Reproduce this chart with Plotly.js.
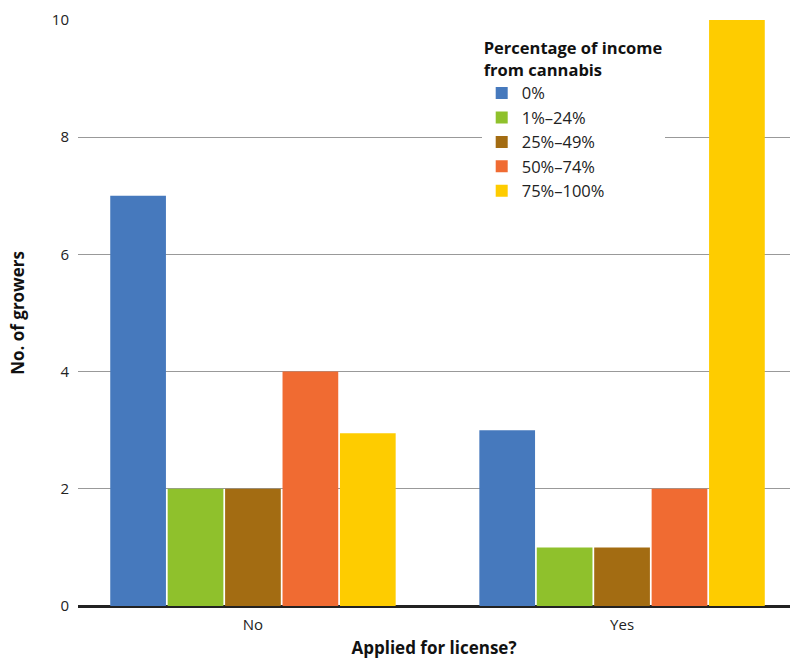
<!DOCTYPE html>
<html>
<head>
<meta charset="utf-8">
<script src="https://cdn.plot.ly/plotly-3.0.1.min.js"></script>
<style>html,body{margin:0;padding:0;background:#fff;}#chart{width:790px;height:661px;}</style>
</head>
<body>
<div id="chart"></div>
<script>
var categories = ["No", "Yes"];
var seriesNames = ["0%", "1%–24%", "25%–49%", "50%–74%", "75%–100%"];
var values0 = [7, 3];
var values1 = [2, 1];
var values2 = [2, 1];
var values3 = [4, 2];
var values4 = [2.95, 10];
var yTicks = [0, 2, 4, 6, 8, 10];

var colors = ["#4679BD", "#8FC12C", "#A36C12", "#F06B32", "#FECC00"];
var allValues = [values0, values1, values2, values3, values4];

var traces = allValues.map(function (v, i) {
  return {
    type: "bar",
    name: seriesNames[i],
    x: categories,
    y: v,
    marker: { color: colors[i], line: { width: 0 } },
    hoverinfo: "x+y+name"
  };
});

var font = "'Open Sans', 'Noto Sans', sans-serif";

var layout = {
  width: 790,
  height: 661,
  margin: { l: 78, r: 0, t: 20, b: 55 },
  paper_bgcolor: "#fff",
  plot_bgcolor: "#fff",
  barmode: "group",
  bargap: 0.222,
  bargroupgap: 0.03,
  font: { family: font, size: 15, color: "#222" },
  showlegend: true,
  legend: {
    x: 0.567,
    y: 0.978,
    xanchor: "left",
    yanchor: "top",
    bgcolor: "#fff",
    borderwidth: 0,
    font: { family: font, size: 16.5, color: "#222" },
    title: { text: "<b>Percentage of income<br>from cannabis</b>", font: { family: font, size: 16.5, color: "#111" } },
    tracegroupgap: 0,
    itemwidth: 30
  },
  xaxis: {
    range: [-0.474, 1.455],
    tickvals: categories,
    ticks: "",
    showline: false,
    showgrid: false,
    zeroline: false,
    ticklabelstandoff: 8,
    tickfont: { family: font, size: 15, color: "#222" },
    title: { text: "<b>Applied for license?</b>", font: { family: font, size: 17, color: "#111" }, standoff: 9 }
  },
  yaxis: {
    range: [0, 10],
    tickvals: yTicks,
    ticktext: yTicks.map(String),
    showgrid: true,
    gridcolor: "#999",
    gridwidth: 1,
    zeroline: true,
    zerolinecolor: "#222",
    zerolinewidth: 3,
    showline: false,
    ticks: "",
    ticklabelstandoff: 8,
    tickfont: { family: font, size: 15, color: "#222" },
    title: { text: "<b>No. of growers</b>", font: { family: font, size: 17, color: "#111" }, standoff: 22 }
  }
};

Plotly.newPlot("chart", traces, layout, { displayModeBar: false, staticPlot: true });
</script>
</body>
</html>
